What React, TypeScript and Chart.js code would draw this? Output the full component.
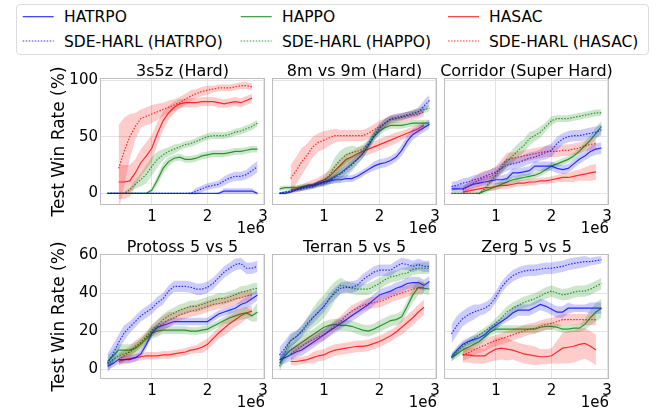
import React, { useEffect, useRef } from "react";
import { Chart, registerables } from "chart.js";
Chart.register(...registerables);

const FONT = "'DejaVu Sans', sans-serif";

// ---------- shared axes ----------
const X_ON = [0.2, 0.3, 0.4, 0.5, 0.6, 0.7, 0.8, 0.9, 1.0, 1.1, 1.2, 1.3, 1.4, 1.5, 1.6, 1.7, 1.8, 1.9, 2.0, 2.1, 2.2, 2.3, 2.4, 2.5, 2.6, 2.7, 2.8, 2.9];
const X_OFF = [0.4, 0.5, 0.6, 0.7, 0.8, 0.9, 1.0, 1.1, 1.2, 1.3, 1.4, 1.5, 1.6, 1.7, 1.8, 1.9, 2.0, 2.1, 2.2, 2.3, 2.4, 2.5, 2.6, 2.7, 2.8];
const X_TICKS = [1, 2, 3];
const Y_TICKS_TOP = [0, 50, 100];
const Y_TICKS_BOTTOM = [0, 20, 40, 60];
const LEGEND_LABELS = ["HATRPO", "SDE-HARL (HATRPO)", "HAPPO", "SDE-HARL (HAPPO)", "HASAC", "SDE-HARL (HASAC)"];
const TITLES = ["3s5z (Hard)", "8m vs 9m (Hard)", "Corridor (Super Hard)", "Protoss 5 vs 5", "Terran 5 vs 5", "Zerg 5 vs 5"];

// ---------- 3s5z ----------
const s3s5zHatrpo = [0,0,0,0,0,0,0,0,0,0,0,0,0,0,0,0,0,0,0,0,0,2,2,2,2,2,2,0];
const s3s5zHatrpoSd = [0,0,0,0,0,0,0,0,0,0,0,0,0,0,0,0,0,0,0,0,1,2.5,2.5,2.5,2.5,2.5,2.5,1];
const s3s5zSdeHatrpo = [0,0,0,0,0,0,0,0,0,0,0,0,0,0,0,0,2,4,6,7,8,11,13.5,15,15,16.5,20,23.5];
const s3s5zSdeHatrpoSd = [0,0,0,0,0,0,0,0,0,0,0,0,0,0,0,1,3,3,3,3,3,4,4,4,4,4,5,5];
const s3s5zHappo = [0,0,0,0,0,0,0,0,3,12,22,28,31,32,30,30,31,33,34,35,35,35,36,37,37,38,39,39];
const s3s5zHappoSd = [0,0,0,0,0,0,0,0.5,2,4,5,4,3,3,3,3,3,3,3,3,3,3,3,3,3,3,3,3];
const s3s5zSdeHappo = [0,0,0,0,3,8,12,17,24,30,34,37,39,41,43,44,46,48,50,51,51,51,52,54,55,57,59,62];
const s3s5zSdeHappoSd = [0,0,0,0.5,2,4,6,8,8,7,5,4,4,3,3,3,3,3,3,3,3,3,3,3,3,3,3,3];
const s3s5zHasac = [10,10,11,18,27,33,40,53,64,71,76,79,80,80,80,81,81,81,80,79,80,81,80,82,84];
const s3s5zHasacSd = [15,15,14,12,12,12,12,10,8,6,5,4,4,4,4,4,4,4,4,4,4,4,4,4,4];
const s3s5zSdeHasac = [22,37,50,59,66,68,70,72,74,76,78,80,83,86,88,90,91,92,93,93,93,94,95,95,94];
const s3s5zSdeHasacSd = [38,30,20,12,8,8,8,7,6,6,5,5,5,5,4,4,4,3,3,3,3,3,3,3,3];

// ---------- 8m vs 9m ----------
const s8mHatrpo = [0,0,1,3,5,6,7,9,10,11,12,12,13,13,15,18,21,24,26,27,29,32,38,46,52,55,58,61];
const s8mHatrpoSd = [1,1,1,1,2,2,2,2,2,3,3,3,3,3,3,3,3,4,4,4,4,4,5,5,5,4,4,4];
const s8mSdeHatrpo = [0,1,2,3,4,5,6,8,9,11,14,17,21,25,30,35,43,50,57,62,66,67,68,69,70,72,77,82];
const s8mSdeHatrpoSd = [1,1,1,2,2,2,2,2,3,3,3,4,4,4,4,4,4,4,4,4,3,3,3,3,3,4,5,5];
const s8mHappo = [4,5,5,5,6,7,7,8,10,12,15,18,22,26,30,35,42,50,55,58,60,60,60,61,62,62,62,62];
const s8mHappoSd = [2,2,2,2,2,2,2,2,3,4,6,8,8,7,5,4,4,4,4,3,3,3,3,3,3,3,3,3];
const s8mSdeHappo = [0,1,2,3,4,5,6,8,11,16,24,30,34,36,37,39,44,52,58,62,65,66,67,69,71,72,74,75];
const s8mSdeHappoSd = [1,1,1,1,2,2,2,3,4,6,8,8,7,6,4,4,4,4,4,4,3,3,3,3,3,3,3,3];
const s8mHasac = [3,4,5,7,8,10,12,15,20,25,30,32,35,37,39,41,43,45,47,49,51,53,55,57,60];
const s8mHasacSd = [3,3,3,3,4,4,5,5,5,5,5,5,5,5,5,5,5,5,5,5,4,4,4,4,4];
const s8mSdeHasac = [13,20,28,34,41,45,47,49,51,51,51,51,51,51,53,56,59,62,65,66,67,68,69,70,72];
const s8mSdeHasacSd = [12,12,12,10,9,8,8,7,6,5,5,5,5,5,5,5,5,4,4,4,4,4,4,4,4];

// ---------- Corridor ----------
const sCorHatrpo = [4,4,4,6,8,9,10,11,12,12,13,18,18,19,20,24,24,24,24,22,21,22,26,30,33,37,39,40];
const sCorHatrpoSd = [3,3,3,3,3,3,3,3,4,4,4,4,4,4,4,4,4,4,4,4,4,4,4,4,4,5,5,5];
const sCorSdeHatrpo = [6,7,9,10,12,13,15,17,19,22,25,26,27,29,31,32,34,36,38,44,48,50,51,51,52,53,54,56];
const sCorSdeHatrpoSd = [4,4,4,4,4,4,4,4,4,5,5,5,5,5,5,5,5,6,6,6,5,5,5,5,5,5,5,5];
const sCorHappo = [0,0,0,0,0,0,2,4,6,8,10,12,13,14,15,16,18,21,24,26,28,30,33,37,42,47,53,59];
const sCorHappoSd = [0,0,0,0,0,1,2,2,3,3,3,3,3,3,3,3,3,3,3,3,3,3,3,3,4,4,5,5];
const sCorSdeHappo = [0,0,0,0,0,0,4,10,16,22,28,33,38,42,48,51,54,59,64,66,66,66,67,68,69,70,71,71];
const sCorSdeHappoSd = [0,0,0,0,0,1,2,3,3,4,5,6,6,6,6,5,5,4,4,3,3,3,3,3,3,3,3,3];
const sCorHasac = [1,2,3,4,5,5,6,7,7,8,9,9,10,10,11,11,12,13,14,14,15,16,17,18,19];
const sCorHasacSd = [2,2,2,3,3,3,3,3,3,3,3,3,3,3,3,3,3,3,4,4,5,5,6,7,7];
const sCorSdeHasac = [3,6,9,12,14,15,18,24,30,31,32,33,34,35,36,37,37,37,38,38,39,40,42,43,44];
const sCorSdeHasacSd = [3,4,5,6,6,6,6,6,6,5,5,5,5,5,5,5,5,5,5,5,5,5,5,5,5];

// ---------- Protoss 5 vs 5 ----------
const sProHatrpo = [1.5,3,5,5,5,6,8,13,19,22,23,24,25,25,25,25,25,25,25,27,29,30,31,32,34,35,37,39];
const sProHatrpoSd = [2,2,2,2,2,2,2,2,2,2,2,2,2,2,2,2,2,2,2,2,2,2,2,2,2,3,3,3];
const sProSdeHatrpo = [3,8,14,19,22,25,28,30,32,35,37,41,43.5,43.5,43.5,43,42,42,43,45,48,51,53,55,55.5,53,53,54];
const sProSdeHatrpoSd = [5,5,4,4,3,3,3,3,3,3,3,3,3,3,3,3,3,3,3,3,3,3,3,3,3,3,3,3];
const sProHappo = [4,7,10,10,10,11,13,16,19,20,20.5,20.5,20.5,20.5,20.5,20,20,20.5,21,22.5,24,25.5,27,28,29,29.5,28,30];
const sProHappoSd = [3,3,3,3,3,3,3,3,3,3,2,2,2,2,2,2,2,2,2,2,2,2,3,3,3,3,3,5];
const sProSdeHappo = [2.5,5,7,8,9,11,14,17,20.5,23,26,28,29.5,31,32,33,33,34,35,36,37,37,38,39,40.5,41,42,42.5];
const sProSdeHappoSd = [2,2,2,2,2,2,2,2,3,3,3,3,3,3,3,3,3,3,3,3,3,3,3,3,3,3,3,3];
const sProHasac = [4,5,5.5,6,6.5,7,7,7,7.5,7.5,8,8.5,9,10,10.5,11.5,13,16,19,21.5,24,26,28,29.5,30.5];
const sProHasacSd = [2,2,2,2,2,2,2,2,2,2,2,2,2,2,2,3,3,3,3,4,4,4,4,3,3];
const sProSdeHasac = [5,7,9,12,14,17,20,22,24,26,27,28.5,29.5,30.5,31,32,33,34,34.5,35,36,37,37.5,38.5,39];
const sProSdeHasacSd = [3,3,3,3,3,3,3,4,4,4,3,3,3,3,3,3,3,3,3,3,3,3,3,3,3];

// ---------- Terran 5 vs 5 ----------
const sTerHatrpo = [5,6,7.5,9,10,12,14,16,18,20,22,24,26,28,30,32,34,36.5,39,40,41,42.5,43.5,45,45.5,45.5,44,46];
const sTerHatrpoSd = [3,3,3,3,3,3,3,3,3,3,3,3,3,3,3,3,3,3,3,3,3,3,3,3,3,3,3,3];
const sTerSdeHatrpo = [7.5,11,15,17,20,24,27,30,33,37,40,42.5,43,43,44,47,49,51,52,52,52,54,55.5,55,54,55,54,54];
const sTerSdeHatrpoSd = [4,4,4,3,3,3,3,3,3,3,3,3,3,3,3,3,3,3,3,3,3,3,3,3,3,3,3,3];
const sTerHappo = [3,7,10,12,14,16,18,20,22,23,23.5,23,23,22.5,21.5,20.5,20,21,22.5,24,25.5,26,27.5,33,39,43,42.5,42];
const sTerHappoSd = [3,3,3,3,3,3,3,3,3,3,3,3,3,3,3,3,3,3,3,3,3,3,3,3,4,4,3,3];
const sTerSdeHappo = [1.5,9,15,17,19.5,23,27,30,33,37,41,44,43.5,42.5,42,42,42,43.5,45,47,48.5,49,50,50.5,52.5,53,53,53];
const sTerSdeHappoSd = [3,3,3,3,3,4,5,6,6,6,5,4,3,3,3,3,3,3,3,3,3,3,3,3,3,3,3,3];
const sTerHasac = [4,4,4.5,5,6,7,7.5,9,10,10.5,11,11.5,12,12,12.5,13.5,14.5,16,17.5,19.5,22,24.5,27,30,32.5];
const sTerHasacSd = [2,2,2,2,3,3,3,3,3,3,3,3,3,3,3,3,3,3,3,3,4,4,4,4,4];
const sTerSdeHasac = [8,10,12,14,15.5,17,18,20.5,23,25,28,30.5,32,33.5,34.5,35,35.5,36.5,38,39,40,41,42,42.5,43];
const sTerSdeHasacSd = [3,3,3,3,3,3,3,3,3,3,3,3,3,3,3,3,3,3,3,3,3,3,3,3,3];

// ---------- Zerg 5 vs 5 ----------
const sZerHatrpo = [6.5,10,13,14.5,15.5,16.5,18,21,23,25,27,29.5,31,31,31,32.5,34,33,31.5,30,30,32,32,32,32,32,32,32];
const sZerHatrpoSd = [2,2,2,2,2,2,2,2,2,2,2,3,3,3,3,3,3,3,3,3,3,3,2,2,2,3,3,3];
const sZerSdeHatrpo = [18.5,23,26.5,28.5,30,31,32,34,38,43,46.5,49,50.5,51.5,52,52,52.5,53,53,53.5,54,55,55.5,56,56.5,56.5,57,57.5];
const sZerSdeHatrpoSd = [5,5,4,4,4,3,3,3,3,3,3,3,3,3,3,3,3,3,3,3,3,3,3,3,3,2,2,2];
const sZerHappo = [6,8,10,11.5,13,14.5,17,19.5,21,21,21,21,21,21,21,21,22,22.5,22.5,22,21,21,21.5,21.5,23.5,27,30,32];
const sZerHappoSd = [2,2,2,2,2,2,2,2,2,2,2,2,2,2,2,2,2,2,2,2,2,2,2,2,3,4,5,5];
const sZerSdeHappo = [6,9,12,14,16,18,20,22,24,27,30,32,33.5,35,36,37,38.5,40,41,40,39,39.5,40.5,41,41,42,43.5,45];
const sZerSdeHappoSd = [2,2,2,2,2,2,2,2,3,3,3,3,3,3,3,3,3,3,3,3,3,3,3,3,3,3,3,3];
const sZerHasac = [7.5,7.5,7,7,7,9,10.5,11,10.5,10,9,8,7.5,7,6.5,6.5,7,9,11,11.5,12,13,13.5,12,10];
const sZerHasacSd = [4,4,4,4,4,5,6,6,6,5,5,5,5,5,4,4,4,6,8,8.5,8.5,8.5,8,8,8];
const sZerSdeHasac = [7.5,8.5,10,11.5,12.5,14,15,16,17,18,19,20,21,21.5,22.5,23.5,24,25,26,26,26,26,26,26,26];
const sZerSdeHasacSd = [3,3,3,3,3,3,3,3,3,3,3,3,3,3,3,3,3,3,3,3,3,3,3,3,3];

const PANELS = [
  { title: TITLES[0], mean: [s3s5zHatrpo, s3s5zSdeHatrpo, s3s5zHappo, s3s5zSdeHappo, s3s5zHasac, s3s5zSdeHasac], sd: [s3s5zHatrpoSd, s3s5zSdeHatrpoSd, s3s5zHappoSd, s3s5zSdeHappoSd, s3s5zHasacSd, s3s5zSdeHasacSd] },
  { title: TITLES[1], mean: [s8mHatrpo, s8mSdeHatrpo, s8mHappo, s8mSdeHappo, s8mHasac, s8mSdeHasac], sd: [s8mHatrpoSd, s8mSdeHatrpoSd, s8mHappoSd, s8mSdeHappoSd, s8mHasacSd, s8mSdeHasacSd] },
  { title: TITLES[2], mean: [sCorHatrpo, sCorSdeHatrpo, sCorHappo, sCorSdeHappo, sCorHasac, sCorSdeHasac], sd: [sCorHatrpoSd, sCorSdeHatrpoSd, sCorHappoSd, sCorSdeHappoSd, sCorHasacSd, sCorSdeHasacSd] },
  { title: TITLES[3], mean: [sProHatrpo, sProSdeHatrpo, sProHappo, sProSdeHappo, sProHasac, sProSdeHasac], sd: [sProHatrpoSd, sProSdeHatrpoSd, sProHappoSd, sProSdeHappoSd, sProHasacSd, sProSdeHasacSd] },
  { title: TITLES[4], mean: [sTerHatrpo, sTerSdeHatrpo, sTerHappo, sTerSdeHappo, sTerHasac, sTerSdeHasac], sd: [sTerHatrpoSd, sTerSdeHatrpoSd, sTerHappoSd, sTerSdeHappoSd, sTerHasacSd, sTerSdeHasacSd] },
  { title: TITLES[5], mean: [sZerHatrpo, sZerSdeHatrpo, sZerHappo, sZerSdeHappo, sZerHasac, sZerSdeHasac], sd: [sZerHatrpoSd, sZerSdeHatrpoSd, sZerHappoSd, sZerSdeHappoSd, sZerHasacSd, sZerSdeHasacSd] },
];

// ---------- styles ----------
const SERIES_STYLE = [
  { rgb: "0,0,255", dash: [] as number[], off: false },
  { rgb: "0,0,255", dash: [1.5, 1.5], off: false },
  { rgb: "0,128,0", dash: [] as number[], off: false },
  { rgb: "0,128,0", dash: [1.5, 1.5], off: false },
  { rgb: "255,0,0", dash: [] as number[], off: true },
  { rgb: "255,0,0", dash: [1.5, 1.5], off: true },
];
const GRID = "#e3e3e3";
const FRAME = "#bdbdbd";
const LINE_ALPHA = 0.8;
const BAND_ALPHA = 0.2;

const COL_LEFT = [100, 272, 444];
const PLOT_W = 165;
const ROW_TOP = [78, 254];
const ROW_BOTTOM = [205, 379];
const ROW_Y = [
  { min: -10.3, max: 101.8, ticks: Y_TICKS_TOP },
  { min: -5.2, max: 60.5, ticks: Y_TICKS_BOTTOM },
];

function Panel({ idx }: { idx: number }) {
  const ref = useRef<HTMLCanvasElement>(null);
  const row = Math.floor(idx / 3);
  const col = idx % 3;
  const p = PANELS[idx];
  const yW = col === 0 ? 60 : 6;
  const padR = 8;
  const titleH = 20;
  const xH = 36;
  const plotH = ROW_BOTTOM[row] - ROW_TOP[row];
  const w = yW + PLOT_W + padR;
  const h = titleH + plotH + xH;

  useEffect(() => {
    const datasets: any[] = [];
    SERIES_STYLE.forEach((st, k) => {
      const xs = st.off ? X_OFF : X_ON;
      const m = p.mean[k];
      const s = p.sd[k];
      datasets.push({
        data: xs.map((x, i) => ({ x, y: m[i] - s[i] })),
        borderColor: "rgba(0,0,0,0)",
        borderWidth: 0,
        pointRadius: 0,
        fill: false,
      });
      datasets.push({
        data: xs.map((x, i) => ({ x, y: m[i] + s[i] })),
        borderColor: "rgba(0,0,0,0)",
        borderWidth: 0,
        pointRadius: 0,
        fill: "-1",
        backgroundColor: `rgba(${st.rgb},${BAND_ALPHA})`,
      });
    });
    SERIES_STYLE.forEach((st, k) => {
      const xs = st.off ? X_OFF : X_ON;
      const m = p.mean[k];
      datasets.push({
        label: LEGEND_LABELS[k],
        data: xs.map((x, i) => ({ x, y: m[i] })),
        borderColor: `rgba(${st.rgb},${LINE_ALPHA})`,
        borderWidth: 1.2,
        borderDash: st.dash,
        pointRadius: 0,
        fill: false,
        tension: 0,
      });
    });

    const framePlugin = {
      id: "frameAndTitle",
      afterDatasetsDraw(chart: any) {
        const { ctx, chartArea: a } = chart;
        ctx.save();
        ctx.strokeStyle = FRAME;
        ctx.lineWidth = 1;
        ctx.setLineDash([]);
        ctx.strokeRect(a.left + 0.5, a.top + 0.5, a.right - a.left - 1, a.bottom - a.top - 1);
        ctx.restore();
      },
      afterDraw(chart: any) {
        const { ctx, chartArea: a } = chart;
        ctx.save();
        ctx.font = `16px ${FONT}`;
        ctx.fillStyle = "#000";
        ctx.textAlign = "center";
        ctx.textBaseline = "middle";
        ctx.fillText(p.title, (a.left + a.right) / 2, a.top - 6.5);
        ctx.restore();
      },
    };

    const yr = ROW_Y[row];
    const chart = new Chart(ref.current as HTMLCanvasElement, {
      type: "line",
      data: { datasets },
      plugins: [framePlugin],
      options: {
        animation: false,
        responsive: false,
        devicePixelRatio: 1,
        events: [],
        layout: { padding: { left: 0, right: padR, top: titleH, bottom: 0 } },
        plugins: {
          legend: { display: false },
          tooltip: { enabled: false },
          title: { display: false },
        },
        scales: {
          x: {
            type: "linear",
            min: 0.065,
            max: 3.035,
            afterBuildTicks: (s: any) => {
              s.ticks = X_TICKS.map((v) => ({ value: v }));
            },
            afterFit: (s: any) => {
              s.height = xH;
            },
            grid: { color: GRID, drawTicks: false, lineWidth: 1 },
            border: { display: false },
            ticks: {
              color: "#000",
              font: { family: FONT, size: 15 },
              padding: 3,
              maxRotation: 0,
              autoSkip: false,
              callback: (v: any) => String(v),
            },
            title: {
              display: true,
              text: "1e6",
              align: "end",
              color: "#000",
              font: { family: FONT, size: 15 },
              padding: { top: 0, bottom: 2.5 },
            },
          },
          y: {
            type: "linear",
            min: yr.min,
            max: yr.max,
            afterBuildTicks: (s: any) => {
              s.ticks = yr.ticks.map((v) => ({ value: v }));
            },
            afterFit: (s: any) => {
              s.width = yW;
            },
            grid: { color: GRID, drawTicks: false, lineWidth: 1 },
            border: { display: false },
            ticks: {
              display: col === 0,
              color: "#000",
              font: { family: FONT, size: 15 },
              padding: 2,
              callback: (v: any) => String(v),
            },
            title: {
              display: col === 0,
              text: "Test Win Rate (%)",
              color: "#000",
              font: { family: FONT, size: 17 },
              padding: { top: 9.5, bottom: 0 },
            },
          },
        },
      } as any,
    });
    return () => chart.destroy();
  }, []);

  return (
    <canvas
      ref={ref}
      width={w}
      height={h}
      style={{ position: "absolute", left: COL_LEFT[col] - yW, top: ROW_TOP[row] - titleH, width: w, height: h }}
    />
  );
}

const LEG_HANDLE_X = [22.7, 240.7, 448];
const LEG_TEXT_X = [64, 282, 489];
const LEG_ROW_Y = [16.7, 41];

function Legend() {
  const items = SERIES_STYLE.map((st, k) => ({ st, label: LEGEND_LABELS[k], col: Math.floor(k / 2), row: k % 2 }));
  return (
    <div>
      <div
        style={{
          position: "absolute",
          left: 16,
          top: 4,
          width: 631,
          height: 49,
          border: "1px solid #dcdcdc",
          borderRadius: 4,
          background: "#fff",
        }}
      />
      <svg style={{ position: "absolute", left: 0, top: 0 }} width={672} height={60}>
        {items.map((it, i) => (
          <line
            key={i}
            x1={LEG_HANDLE_X[it.col]}
            x2={LEG_HANDLE_X[it.col] + 31}
            y1={LEG_ROW_Y[it.row]}
            y2={LEG_ROW_Y[it.row]}
            stroke={`rgba(${it.st.rgb},${LINE_ALPHA})`}
            strokeWidth={1.2}
            strokeDasharray={it.st.dash.length ? it.st.dash.join(" ") : undefined}
          />
        ))}
      </svg>
      {items.map((it, i) => (
        <div
          key={i}
          style={{
            position: "absolute",
            left: LEG_TEXT_X[it.col],
            top: LEG_ROW_Y[it.row] - 8.5,
            height: 18,
            lineHeight: "18px",
            fontSize: 15.5,
            fontFamily: FONT,
            color: "#000",
            whiteSpace: "nowrap",
          }}
        >
          {it.label}
        </div>
      ))}
    </div>
  );
}

export default function App() {
  return (
    <div
      style={{
        position: "fixed",
        left: 0,
        top: 0,
        width: 672,
        height: 410,
        background: "#fff",
        overflow: "hidden",
        fontFamily: FONT,
      }}
    >
      <Legend />
      {PANELS.map((_, i) => (
        <Panel key={i} idx={i} />
      ))}
    </div>
  );
}
